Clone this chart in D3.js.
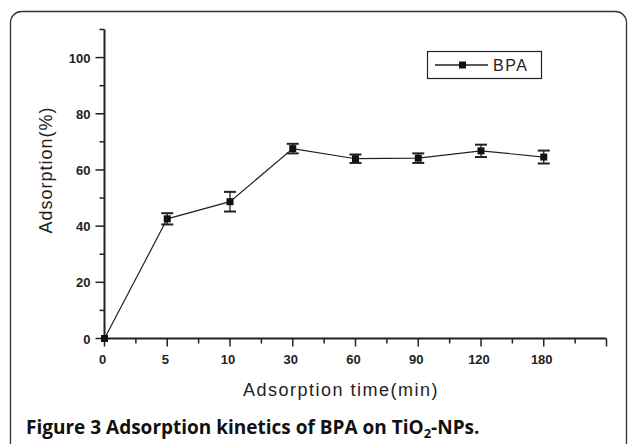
<!DOCTYPE html>
<html>
<head>
<meta charset="utf-8">
<script src="https://cdn.jsdelivr.net/npm/d3@7"></script>
<style>
  html, body { margin: 0; padding: 0; background: #fff; }
  svg { display: block; }
  .tick-label { font-family: "Liberation Sans", Arial, sans-serif; font-size: 13px; font-weight: bold; fill: #222; }
  .axis-title { font-family: "Liberation Sans", Arial, sans-serif; font-size: 18px; fill: #222; }
  .legend-text { font-family: "Liberation Sans", Arial, sans-serif; font-size: 16px; fill: #222; }
  .caption { font-family: "Open Sans", "Noto Sans", sans-serif; font-size: 19px; font-weight: bold; fill: #111; }
</style>
</head>
<body>
<svg id="chart" width="629" height="444"></svg>
<script>
// data
const timeLabels = ['0', '5', '10', '30', '60', '90', '120', '180'];
const adsorption = [0, 42.6, 48.7, 67.6, 64.0, 64.2, 66.8, 64.6];
const errors = [0, 2.0, 3.5, 1.7, 1.5, 1.7, 2.2, 2.3];
const yMajor = [0, 20, 40, 60, 80, 100];
const yMinor = [10, 30, 50, 70, 90, 110];
const seriesName = 'BPA';

const svg = d3.select('#chart');
const ink = '#222';

// outer frame (bottom runs off the page)
svg.append('rect')
  .attr('x', 10.5).attr('y', 11.5)
  .attr('width', 616).attr('height', 460)
  .attr('rx', 11).attr('ry', 11)
  .attr('fill', 'none').attr('stroke', '#333').attr('stroke-width', 1.3);

// scales: x is categorical by index, axis runs one slot past the last point
const x = d3.scaleLinear().domain([0, 8]).range([104.5, 606.5]);
const y = d3.scaleLinear().domain([0, 110]).range([338.5, 29.5]);

const axes = svg.append('g');

// y axis
axes.append('line')
  .attr('x1', x(0)).attr('x2', x(0))
  .attr('y1', y(110)).attr('y2', y(0))
  .attr('stroke', ink).attr('stroke-width', 2);
axes.selectAll('line.ymaj').data(yMajor).enter().append('line')
  .attr('class', 'ymaj')
  .attr('x1', x(0) - 9).attr('x2', x(0))
  .attr('y1', d => y(d)).attr('y2', d => y(d))
  .attr('stroke', ink).attr('stroke-width', 1.5);
axes.selectAll('line.ymin').data(yMinor).enter().append('line')
  .attr('class', 'ymin')
  .attr('x1', x(0) - 5).attr('x2', x(0))
  .attr('y1', d => y(d)).attr('y2', d => y(d))
  .attr('stroke', ink).attr('stroke-width', 1.5);
axes.selectAll('text.ylab').data(yMajor).enter().append('text')
  .attr('class', 'tick-label')
  .attr('x', x(0) - 14).attr('y', d => y(d) + 5)
  .attr('text-anchor', 'end')
  .text(d => d);

// x axis
axes.append('line')
  .attr('x1', x(0)).attr('x2', x(8))
  .attr('y1', y(0)).attr('y2', y(0))
  .attr('stroke', ink).attr('stroke-width', 2);
const xMajor = d3.range(0, 9);
const xMinor = d3.range(0.5, 8, 1);
axes.selectAll('line.xmaj').data(xMajor).enter().append('line')
  .attr('class', 'xmaj')
  .attr('x1', d => x(d)).attr('x2', d => x(d))
  .attr('y1', y(0)).attr('y2', y(0) + 8)
  .attr('stroke', ink).attr('stroke-width', 1.5);
axes.selectAll('line.xmin').data(xMinor).enter().append('line')
  .attr('class', 'xmin')
  .attr('x1', d => x(d)).attr('x2', d => x(d))
  .attr('y1', y(0)).attr('y2', y(0) + 5)
  .attr('stroke', ink).attr('stroke-width', 1.5);
axes.selectAll('text.xlab').data(timeLabels).enter().append('text')
  .attr('class', 'tick-label')
  .attr('x', (d, i) => x(i) - 2).attr('y', y(0) + 25)
  .attr('text-anchor', 'middle')
  .text(d => d);

// axis titles
svg.append('text')
  .attr('class', 'axis-title')
  .attr('x', 341).attr('y', 396)
  .attr('text-anchor', 'middle')
  .attr('letter-spacing', 1.5)
  .text('Adsorption time(min)');
svg.append('text')
  .attr('class', 'axis-title')
  .attr('transform', 'translate(52,170) rotate(-90)')
  .attr('text-anchor', 'middle')
  .attr('letter-spacing', 1)
  .text('Adsorption(%)');

// series
const pts = adsorption.map((v, i) => ({ i, v, e: errors[i] }));
const line = d3.line().x(d => x(d.i)).y(d => y(d.v));
svg.append('path')
  .attr('d', line(pts))
  .attr('fill', 'none').attr('stroke', ink).attr('stroke-width', 1.2);

const bars = svg.append('g');
const withErr = pts.filter(d => d.e > 0);
bars.selectAll('line.stem').data(withErr).enter().append('line')
  .attr('x1', d => x(d.i)).attr('x2', d => x(d.i))
  .attr('y1', d => y(d.v + d.e)).attr('y2', d => y(d.v - d.e))
  .attr('stroke', ink).attr('stroke-width', 1.3);
[1, -1].forEach(s => {
  bars.selectAll(null).data(withErr).enter().append('line')
    .attr('x1', d => x(d.i) - 6).attr('x2', d => x(d.i) + 6)
    .attr('y1', d => y(d.v + s * d.e)).attr('y2', d => y(d.v + s * d.e))
    .attr('stroke', ink).attr('stroke-width', 2);
});
svg.append('g').selectAll('rect').data(pts).enter().append('rect')
  .attr('x', d => x(d.i) - 3.5).attr('y', d => y(d.v) - 3.5)
  .attr('width', 7).attr('height', 7)
  .attr('fill', '#111');

// legend
const lg = svg.append('g').attr('transform', 'translate(427,51)');
lg.append('rect')
  .attr('x', 0.5).attr('y', 0.5).attr('width', 114).attr('height', 27)
  .attr('fill', '#fff').attr('stroke', ink).attr('stroke-width', 1.2);
lg.append('line')
  .attr('x1', 8).attr('x2', 61).attr('y1', 14).attr('y2', 14)
  .attr('stroke', ink).attr('stroke-width', 1.3);
lg.append('rect')
  .attr('x', 32).attr('y', 10.5).attr('width', 7).attr('height', 7)
  .attr('fill', '#111');
lg.append('text')
  .attr('class', 'legend-text')
  .attr('x', 66).attr('y', 20)
  .attr('letter-spacing', 1.5)
  .text(seriesName);

// figure caption
const cap = svg.append('text').attr('class', 'caption').attr('x', 26).attr('y', 434);
cap.append('tspan').text('Figure 3 Adsorption kinetics of BPA on TiO');
cap.append('tspan').attr('font-size', 13).attr('dy', 4).text('2');
cap.append('tspan').attr('dy', -4).text('-NPs.');
</script>
</body>
</html>
